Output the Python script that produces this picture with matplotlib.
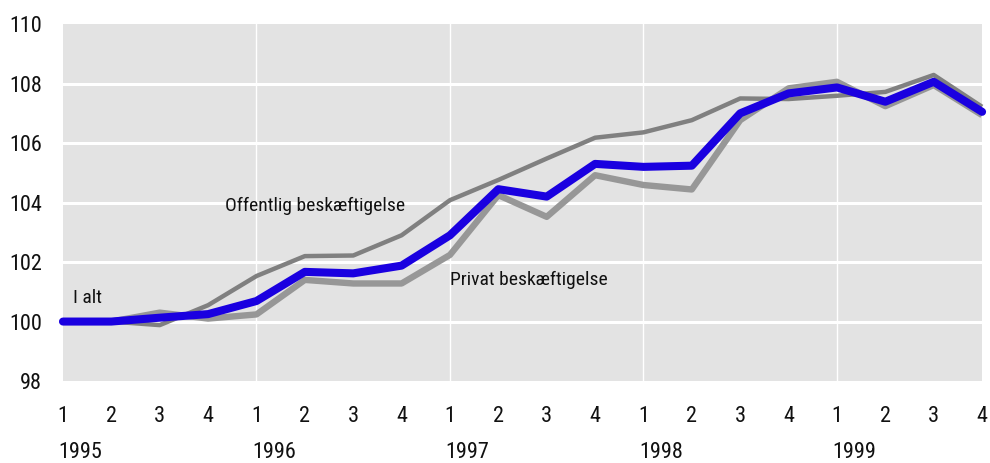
import matplotlib.pyplot as plt
from matplotlib import font_manager
import numpy as np

# quarterly index, 1995 Q1 = 100
years = ["1995", "1996", "1997", "1998", "1999"]
quarters = ["1", "2", "3", "4"] * 5

i_alt = [100.0, 100.0, 100.13, 100.25, 100.69, 101.67, 101.62, 101.88, 102.9, 104.45,
         104.2, 105.3, 105.2, 105.24, 107.0, 107.67, 107.87, 107.39, 108.06, 107.05]
offentlig = [100.0, 100.0, 99.88, 100.55, 101.53, 102.2, 102.22, 102.9, 104.08, 104.76,
             105.48, 106.18, 106.36, 106.77, 107.5, 107.48, 107.59, 107.72, 108.29, 107.22]
privat = [100.0, 100.0, 100.3, 100.1, 100.24, 101.4, 101.28, 101.28, 102.24, 104.25,
          103.52, 104.92, 104.59, 104.44, 106.77, 107.84, 108.06, 107.24, 107.95, 106.94]

names = {f.name for f in font_manager.fontManager.ttflist}
font = "Liberation Sans"
for cand in ["Liberation Sans Narrow", "Roboto Condensed", "Open Sans Condensed", "Arial Narrow"]:
    if cand in names:
        font = cand
        break
narrow = font != "Liberation Sans"
plt.rcParams['font.family'] = [font, 'DejaVu Sans']

tick_fs = 16 if narrow else 14.5
lab_fs = 14 if narrow else 12.5

fig = plt.figure(figsize=(9.9, 4.63), dpi=100)
ax = fig.add_axes([0.0636, 0.177, 0.9284, 0.771])
ax.set_facecolor("#e3e3e3")

x = np.arange(len(i_alt))
ax.plot(x, privat, color="#979797", lw=4.6, solid_capstyle="butt", zorder=3, clip_on=False)
ax.plot(x, offentlig, color="#808080", lw=3.2, solid_capstyle="butt", zorder=4, clip_on=False)
ax.plot(x, i_alt, color="#1a00e0", lw=5.8, solid_capstyle="round", zorder=5, clip_on=False)

ax.set_xlim(0, len(i_alt) - 1)
ax.set_ylim(98, 110)
ax.set_yticks(np.arange(98, 111, 2))
ax.set_xticks(x)
ax.set_xticklabels(quarters)
ax.tick_params(length=0, labelsize=tick_fs, colors="#111111")
ax.tick_params(axis="x", pad=18)
ax.tick_params(axis="y", pad=15)

for s in ax.spines.values():
    s.set_visible(False)

for v in range(100, 110, 2):
    ax.axhline(v, color="white", lw=2.2, zorder=1)
for k in range(4, len(i_alt), 4):
    ax.axvline(k, color="white", lw=1.0, zorder=1)

for k, yr in enumerate(years):
    ax.annotate(yr, xy=(4 * k, 98), xycoords="data", xytext=(-3, -44), textcoords="offset points",
                ha="left", va="top", fontsize=tick_fs, color="#111111", annotation_clip=False)

ax.text(0.2, 100.8, "I alt", fontsize=lab_fs, va="center", ha="left", color="#111111")
ax.text(3.35, 103.9, "Offentlig beskæftigelse", fontsize=lab_fs, va="center", ha="left", color="#111111")
ax.text(8.0, 101.4, "Privat beskæftigelse", fontsize=lab_fs, va="center", ha="left", color="#111111")

fig.savefig("out.png", dpi=100)
